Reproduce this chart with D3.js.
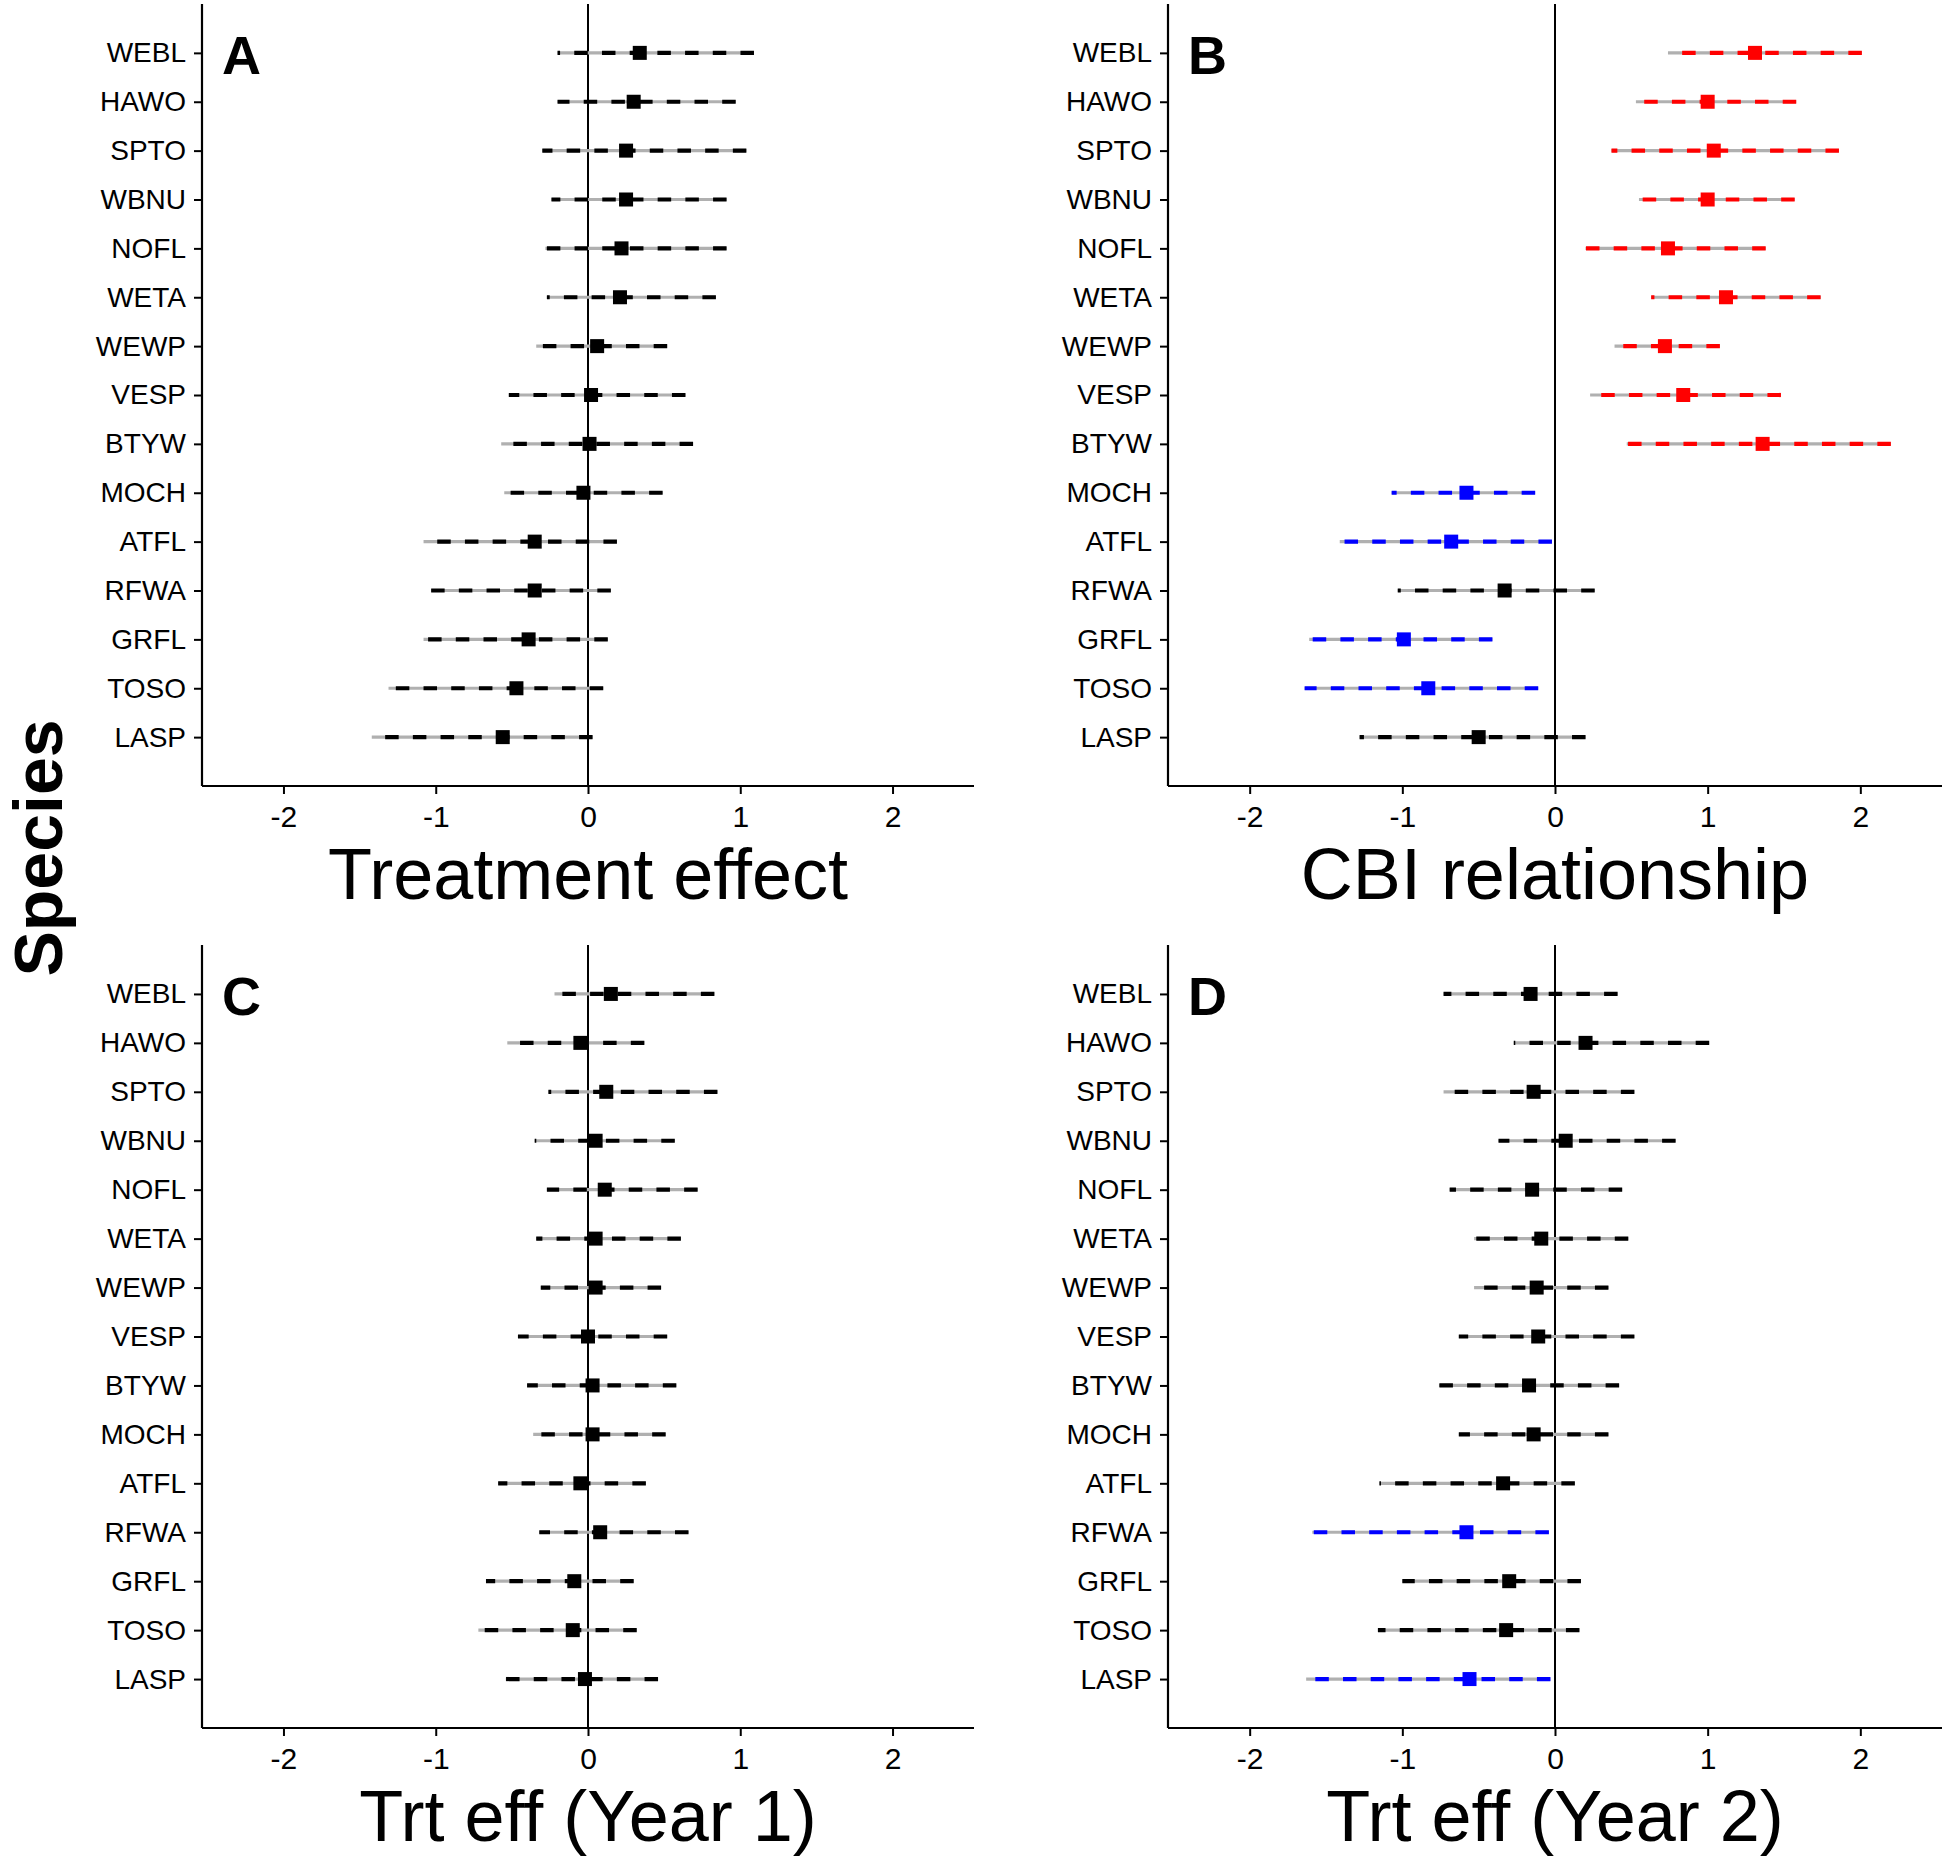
<!DOCTYPE html>
<html>
<head>
<meta charset="utf-8">
<script src="https://cdn.jsdelivr.net/npm/d3@7"></script>
<style>
  html, body { margin: 0; padding: 0; background: #fff; }
  svg { display: block; font-family: "Liberation Sans", Arial, sans-serif; }
</style>
</head>
<body>
<svg id="chart" width="1944" height="1859"></svg>
<script>
// ---- Data ----
const species = ["WEBL","HAWO","SPTO","WBNU","NOFL","WETA","WEWP","VESP","BTYW","MOCH","ATFL","RFWA","GRFL","TOSO","LASP"];
const xTicks = [-2, -1, 0, 1, 2];

// Panel A: Treatment effect
const estA = [0.34,0.30,0.25,0.25,0.22,0.21,0.06,0.02,0.01,-0.03,-0.35,-0.35,-0.39,-0.47,-0.56];
const loA  = [-0.20,-0.20,-0.30,-0.24,-0.28,-0.27,-0.34,-0.52,-0.57,-0.55,-1.08,-1.03,-1.08,-1.31,-1.42];
const hiA  = [1.09,0.97,1.04,0.91,0.91,0.84,0.52,0.64,0.69,0.49,0.19,0.15,0.13,0.10,0.03];
const sigA = ["ns","ns","ns","ns","ns","ns","ns","ns","ns","ns","ns","ns","ns","ns","ns"];

// Panel B: CBI relationship
const estB = [1.31,1.00,1.04,1.00,0.74,1.12,0.72,0.84,1.36,-0.58,-0.68,-0.33,-0.99,-0.83,-0.50];
const loB  = [0.74,0.53,0.37,0.55,0.20,0.63,0.39,0.23,0.47,-1.07,-1.41,-1.03,-1.61,-1.64,-1.28];
const hiB  = [2.01,1.58,1.86,1.57,1.38,1.74,1.08,1.48,2.20,-0.13,-0.02,0.26,-0.41,-0.11,0.20];
const sigB = ["pos","pos","pos","pos","pos","pos","pos","pos","pos","neg","neg","ns","neg","neg","ns"];

// Panel C: Trt eff (Year 1)
const estC = [0.15,-0.05,0.12,0.05,0.11,0.05,0.05,0.00,0.03,0.03,-0.05,0.08,-0.09,-0.10,-0.02];
const loC  = [-0.22,-0.53,-0.26,-0.35,-0.27,-0.34,-0.31,-0.46,-0.40,-0.36,-0.59,-0.32,-0.67,-0.72,-0.54];
const hiC  = [0.83,0.37,0.85,0.57,0.72,0.61,0.48,0.52,0.58,0.51,0.38,0.66,0.30,0.32,0.46];
const sigC = ["ns","ns","ns","ns","ns","ns","ns","ns","ns","ns","ns","ns","ns","ns","ns"];

// Panel D: Trt eff (Year 2)
const estD = [-0.16,0.20,-0.14,0.07,-0.15,-0.09,-0.12,-0.11,-0.17,-0.14,-0.34,-0.58,-0.30,-0.32,-0.56];
const loD  = [-0.73,-0.27,-0.73,-0.37,-0.69,-0.53,-0.53,-0.63,-0.76,-0.63,-1.15,-1.59,-1.00,-1.16,-1.63];
const hiD  = [0.41,1.01,0.52,0.79,0.44,0.48,0.35,0.52,0.42,0.35,0.13,-0.04,0.17,0.16,-0.03];
const sigD = ["ns","ns","ns","ns","ns","ns","ns","ns","ns","ns","ns","neg","ns","ns","neg"];

const panelLetters = ["A","B","C","D"];
const axisTitles = ["Treatment effect","CBI relationship","Trt eff (Year 1)","Trt eff (Year 2)"];
const sigColors = {ns: "#000000", pos: "#FF0000", neg: "#0000FF"};

// ---- Layout ----
const svg = d3.select("#chart");
const panels = [
  {left: 202, right: 974, top: 4, bottom: 786, est: estA, lo: loA, hi: hiA, sig: sigA},
  {left: 1168, right: 1942, top: 4, bottom: 786, est: estB, lo: loB, hi: hiB, sig: sigB},
  {left: 202, right: 974, top: 945, bottom: 1728, est: estC, lo: loC, hi: hiC, sig: sigC},
  {left: 1168, right: 1942, top: 945, bottom: 1728, est: estD, lo: loD, hi: hiD, sig: sigD}
];

const xDomain = [-2.535, 2.535];

panels.forEach((p, pi) => {
  const x = d3.scaleLinear().domain(xDomain).range([p.left, p.right]);
  const y = d3.scalePoint().domain(species).range([p.top, p.bottom]).padding(1);
  const g = svg.append("g");

  const rows = species.map((s, i) => ({s, est: p.est[i], lo: p.lo[i], hi: p.hi[i], sig: p.sig[i]}));

  // zero reference line
  g.append("line")
    .attr("x1", x(0)).attr("x2", x(0))
    .attr("y1", p.top).attr("y2", p.bottom)
    .attr("stroke", "#000").attr("stroke-width", 2);

  // grey underlying interval
  g.selectAll("line.ci").data(rows).enter().append("line")
    .attr("x1", d => x(d.lo)).attr("x2", d => x(d.hi))
    .attr("y1", d => y(d.s)).attr("y2", d => y(d.s))
    .attr("stroke", "#b0b0b0").attr("stroke-width", 3.2);

  // dashed coloured interval (drawn from hi toward lo)
  g.selectAll("line.dash").data(rows).enter().append("line")
    .attr("x1", d => x(d.hi)).attr("x2", d => x(d.lo))
    .attr("y1", d => y(d.s)).attr("y2", d => y(d.s))
    .attr("stroke", d => sigColors[d.sig]).attr("stroke-width", 4.2)
    .attr("stroke-dasharray", "13.5,14.2");

  // square points
  const sz = 14;
  g.selectAll("rect.pt").data(rows).enter().append("rect")
    .attr("x", d => x(d.est) - sz / 2).attr("y", d => y(d.s) - sz / 2)
    .attr("width", sz).attr("height", sz)
    .attr("fill", d => sigColors[d.sig]);

  // axes
  const xAxis = d3.axisBottom(x).tickValues(xTicks).tickSize(8).tickPadding(12).tickFormat(d => String(d).replace("\u2212", "-"));
  const gx = g.append("g").attr("transform", `translate(0,${p.bottom})`).call(xAxis);
  gx.select(".domain").attr("d", `M${p.left},0H${p.right}`).attr("stroke", "#000").attr("stroke-width", 2.2);
  gx.selectAll(".tick line").attr("stroke", "#000").attr("stroke-width", 2);
  gx.selectAll(".tick text").attr("font-size", 30).attr("fill", "#000")
    .attr("font-family", "'Liberation Sans', Arial, sans-serif");

  const yAxis = d3.axisLeft(y).tickSize(8).tickPadding(8);
  const gy = g.append("g").attr("transform", `translate(${p.left},0)`).call(yAxis);
  gy.select(".domain").attr("d", `M0,${p.top}V${p.bottom}`).attr("stroke", "#000").attr("stroke-width", 2.2);
  gy.selectAll(".tick line").attr("stroke", "#000").attr("stroke-width", 2);
  gy.selectAll(".tick text").attr("font-size", 28).attr("fill", "#000")
    .attr("font-family", "'Liberation Sans', Arial, sans-serif");

  // panel letter
  g.append("text")
    .attr("x", p.left + 20).attr("y", p.top + 70)
    .attr("font-size", 54).attr("font-weight", "bold")
    .text(panelLetters[pi]);

  // x axis title
  g.append("text")
    .attr("x", (p.left + p.right) / 2).attr("y", p.bottom + 113)
    .attr("text-anchor", "middle").attr("font-size", 72)
    .text(axisTitles[pi]);
});

// Shared y-axis title
svg.append("text")
  .attr("transform", "translate(62,848) rotate(-90)")
  .attr("text-anchor", "middle")
  .attr("font-size", 68).attr("font-weight", "bold")
  .text("Species");
</script>
</body>
</html>
